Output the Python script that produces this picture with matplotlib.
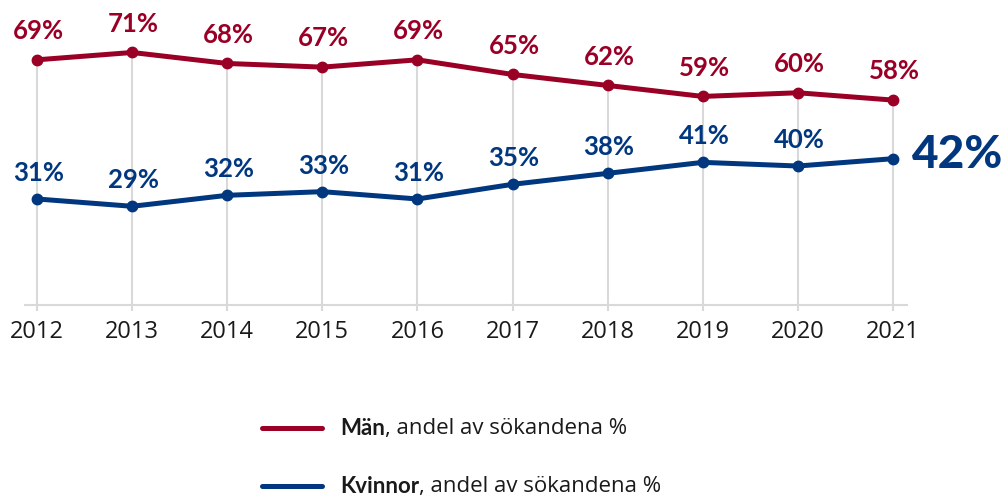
import matplotlib
matplotlib.use("Agg")
import matplotlib.pyplot as plt
from matplotlib.lines import Line2D

years = [2012, 2013, 2014, 2015, 2016, 2017, 2018, 2019, 2020, 2021]
man = [69, 71, 68, 67, 69, 65, 62, 59, 60, 58]
kvinnor = [31, 29, 32, 33, 31, 35, 38, 41, 40, 42]
legend_bold = ["Män", "Kvinnor"]
legend_rest = ", andel av sökandena %"

RED = "#9A0025"
BLUE = "#00377F"
GRID = "#D9D9D9"
TXT = "#1a1a1a"
FONT = ["Open Sans", "DejaVu Sans"]
BOLD = ["Lato", "DejaVu Sans"]
plt.rcParams["font.family"] = FONT

fig = plt.figure(figsize=(10.05, 4.98), dpi=100)
W, H = 1005, 498
ax = fig.add_axes([25 / W, (H - 305) / H, 882 / W, (305 - 10) / H])
ax.set_xlim(2012 - 12 / 95.11, 2021 + 14 / 95.11)
ax.set_ylim(2.05, 82.6)

ax.vlines(years, 2.05, man, color=GRID, lw=1.5, zorder=1)

ax.plot(years, man, color=RED, lw=3.6, marker="o", ms=7.5, zorder=3,
        solid_capstyle="round")
ax.plot(years, kvinnor, color=BLUE, lw=3.6, marker="o", ms=7.5, zorder=3,
        solid_capstyle="round")

for x, v in zip(years, man):
    ax.annotate(f"{v}%", (x, v), xytext=(1, 15), textcoords="offset points",
                ha="center", va="baseline", fontsize=18.5, fontweight="bold",
                family=BOLD, color=RED, annotation_clip=False)
for x, v in zip(years[:-1], kvinnor[:-1]):
    ax.annotate(f"{v}%", (x, v), xytext=(1, 13), textcoords="offset points",
                ha="center", va="baseline", fontsize=18.5, fontweight="bold",
                family=BOLD, color=BLUE, annotation_clip=False)
ax.annotate(f"{kvinnor[-1]}%", (years[-1], kvinnor[-1]), xytext=(14, 3),
            textcoords="offset points", ha="left", va="center", fontsize=33,
            fontweight=900, family=BOLD, color=BLUE, annotation_clip=False)

for s in ["top", "left", "right"]:
    ax.spines[s].set_visible(False)
ax.spines["bottom"].set_color(GRID)
ax.spines["bottom"].set_linewidth(1.5)
ax.set_yticks([])
ax.set_xticks(years)
ax.set_xticklabels([str(y) for y in years], fontsize=17, color=TXT)
ax.tick_params(axis="x", length=4, width=1.5, color=GRID, pad=7)

# legend
for i, (lab, col) in enumerate(zip(legend_bold, [RED, BLUE])):
    yp = 428 + i * 58
    fig.add_artist(Line2D([262 / W, 322 / W], [(H - yp) / H] * 2, color=col,
                          lw=3.6, solid_capstyle="round"))
    t = fig.text(340 / W, (H - yp) / H, lab, fontsize=16, fontweight="bold",
                 family=BOLD, color=TXT, va="center", ha="left")
    ax.annotate(legend_rest, xy=(1, 0), xycoords=t, va="bottom", ha="left",
                fontsize=16, color=TXT, annotation_clip=False)

fig.savefig("out.png", dpi=100)
